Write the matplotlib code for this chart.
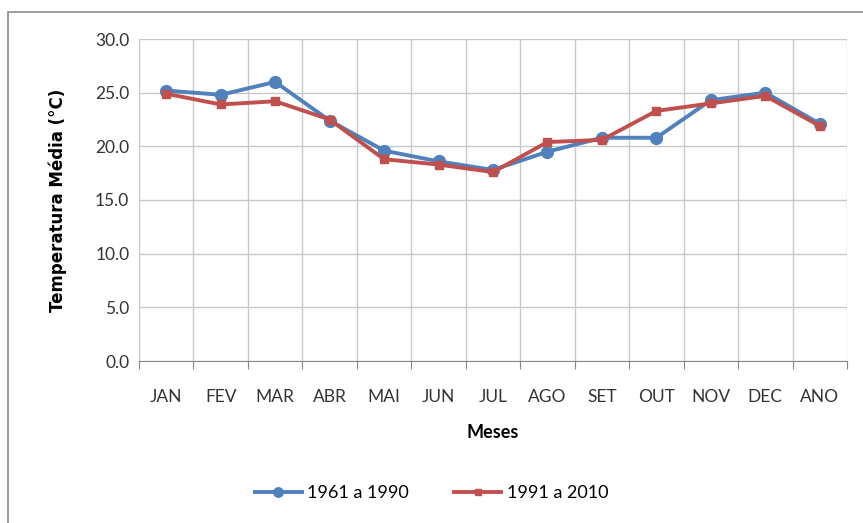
## average monthly temperature, two normal periods
import matplotlib
matplotlib.use('Agg')
import matplotlib.pyplot as plt
import numpy as np
from matplotlib.patches import Rectangle

meses = ['JAN', 'FEV', 'MAR', 'ABR', 'MAI', 'JUN', 'JUL', 'AGO', 'SET', 'OUT', 'NOV', 'DEC', 'ANO']
t_1961_1990 = [25.2, 24.8, 26.0, 22.4, 19.6, 18.6, 17.8, 19.5, 20.8, 20.8, 24.3, 25.0, 22.1]
t_1991_2010 = [24.9, 23.9, 24.2, 22.5, 18.8, 18.3, 17.6, 20.4, 20.6, 23.3, 24.0, 24.7, 21.9]

plt.rcParams['font.family'] = ['Lato', 'DejaVu Sans']

fig = plt.figure(figsize=(8.63, 5.23), dpi=100)
# outer chart frame (cut at right and bottom like the reference)
fig.patches.append(Rectangle((8/863, -0.01), 1.0, 1 - 12/523 + 0.01, transform=fig.transFigure,
                             fill=False, edgecolor='#8c8c8c', linewidth=1.2))

ax = fig.add_axes([139/863, 1 - 361/523, (847 - 139)/863, (361 - 39)/523])
x = np.arange(len(meses))

ax.plot(x, t_1961_1990, color='#4F81BD', linewidth=2.8, marker='o', markersize=8.5,
        label='1961 a 1990', zorder=3)
ax.plot(x, t_1991_2010, color='#C0504D', linewidth=2.8, marker='s', markersize=5.5,
        label='1991 a 2010', zorder=4)

ax.set_xlim(-0.5, len(meses) - 0.5)
ax.set_ylim(0, 30)
ax.set_yticks(np.arange(0, 31, 5))
ax.set_yticklabels(['%.1f' % v for v in np.arange(0, 31, 5)], fontsize=12.5, color='#333333')

ax.set_xticks(np.arange(-0.5, len(meses), 1))
ax.set_xticklabels([])
ax.set_xticks(x, minor=True)
ax.set_xticklabels(meses, minor=True, fontsize=12.5, color='#333333')
ax.tick_params(axis='x', which='major', length=6, color='#888888')
ax.tick_params(axis='x', which='minor', length=0, pad=20)
ax.tick_params(axis='y', length=0, pad=7)

ax.grid(True, which='major', color='#c8c8c8', linewidth=1.0)
ax.set_axisbelow(True)
for s in ['top', 'right', 'left']:
    ax.spines[s].set_visible(False)
ax.spines['bottom'].set_color('#888888')

ax.set_xlabel('Meses', fontsize=13, fontweight='bold', labelpad=14)
ax.set_ylabel('Temperatura Média (°C)', fontsize=12, fontweight='bold', labelpad=20,
              family=['DejaVu Sans'])

fig.legend(loc='center', bbox_to_anchor=(0.5, 1 - 493/523), ncol=2, frameon=False,
           fontsize=13, handlelength=2.6, columnspacing=2.5, handletextpad=0.3,
           markerscale=0.8)

plt.savefig('out.png', dpi=100)
